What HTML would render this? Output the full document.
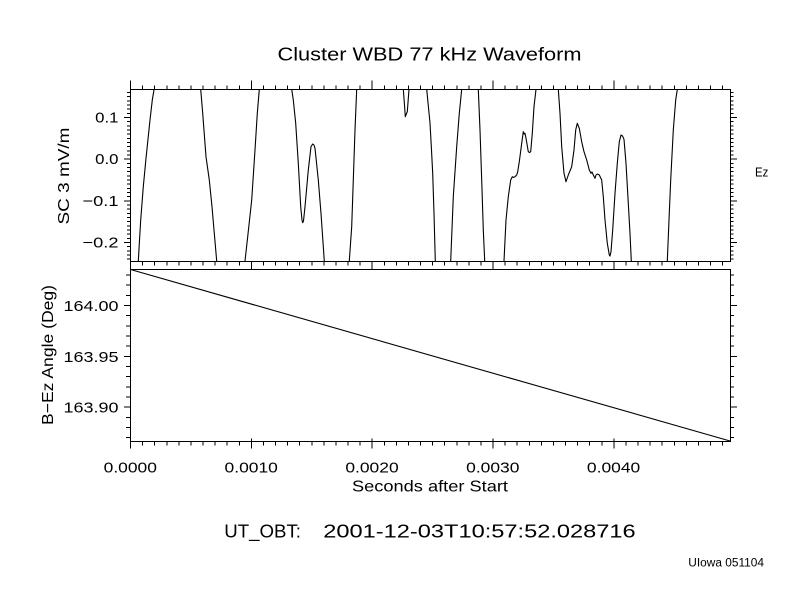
<!DOCTYPE html>
<html>
<head>
<meta charset="utf-8">
<style>
  html,body{margin:0;padding:0;background:#fff;}
  body{width:800px;height:600px;overflow:hidden;}
  svg{display:block;}
  text{font-family:"Liberation Sans", "DejaVu Sans", sans-serif; fill:#000;}
</style>
</head>
<body>
<svg width="800" height="600" viewBox="0 0 800 600" xmlns="http://www.w3.org/2000/svg">
  <rect x="0" y="0" width="800" height="600" fill="#fff"/>
  <defs>
    <clipPath id="c1"><rect x="130" y="89" width="601" height="173"/></clipPath>
  </defs>

  <!-- Title -->
  <text x="429.5" y="60.7" font-size="18.6" text-anchor="middle" textLength="304" lengthAdjust="spacingAndGlyphs">Cluster WBD 77 kHz Waveform</text>

  <!-- Frames -->
  <g fill="none" stroke="#000" stroke-width="1" shape-rendering="crispEdges">
    <rect x="130.5" y="89.5" width="600" height="172"/>
    <rect x="130.5" y="269.5" width="600" height="172"/>
  </g>

  <!-- X ticks -->
  <g stroke="#000" stroke-width="1" shape-rendering="crispEdges" fill="none">
    <!-- top panel, top edge (upward) -->
    <path d="M142.6 89.5v-4M154.7 89.5v-4M166.8 89.5v-4M178.8 89.5v-4M190.9 89.5v-4M203 89.5v-4M215.1 89.5v-4M227.2 89.5v-4M239.3 89.5v-4
             M263.4 89.5v-4M275.5 89.5v-4M287.6 89.5v-4M299.7 89.5v-4M311.8 89.5v-4M323.9 89.5v-4M335.9 89.5v-4M348 89.5v-4M360.1 89.5v-4
             M384.3 89.5v-4M396.4 89.5v-4M408.5 89.5v-4M420.5 89.5v-4M432.6 89.5v-4M444.7 89.5v-4M456.8 89.5v-4M468.9 89.5v-4M481 89.5v-4
             M505.1 89.5v-4M517.2 89.5v-4M529.3 89.5v-4M541.4 89.5v-4M553.5 89.5v-4M565.6 89.5v-4M577.6 89.5v-4M589.7 89.5v-4M601.8 89.5v-4
             M626 89.5v-4M638.1 89.5v-4M650.2 89.5v-4M662.2 89.5v-4M674.3 89.5v-4M686.4 89.5v-4M698.5 89.5v-4M710.6 89.5v-4M722.7 89.5v-4
             M130.5 89.5v-9M251.4 89.5v-9M372.2 89.5v-9M493.1 89.5v-9M613.9 89.5v-9"/>
    <!-- top panel, bottom edge (downward) -->
    <path d="M142.6 261.5v4M154.7 261.5v4M166.8 261.5v4M178.8 261.5v4M190.9 261.5v4M203 261.5v4M215.1 261.5v4M227.2 261.5v4M239.3 261.5v4
             M263.4 261.5v4M275.5 261.5v4M287.6 261.5v4M299.7 261.5v4M311.8 261.5v4M323.9 261.5v4M335.9 261.5v4M348 261.5v4M360.1 261.5v4
             M384.3 261.5v4M396.4 261.5v4M408.5 261.5v4M420.5 261.5v4M432.6 261.5v4M444.7 261.5v4M456.8 261.5v4M468.9 261.5v4M481 261.5v4
             M505.1 261.5v4M517.2 261.5v4M529.3 261.5v4M541.4 261.5v4M553.5 261.5v4M565.6 261.5v4M577.6 261.5v4M589.7 261.5v4M601.8 261.5v4
             M626 261.5v4M638.1 261.5v4M650.2 261.5v4M662.2 261.5v4M674.3 261.5v4M686.4 261.5v4M698.5 261.5v4M710.6 261.5v4M722.7 261.5v4
             M130.5 261.5v8M251.4 261.5v8M372.2 261.5v8M493.1 261.5v8M613.9 261.5v8"/>
    <!-- lower panel, bottom edge (downward) -->
    <path d="M142.6 441.5v4M154.7 441.5v4M166.8 441.5v4M178.8 441.5v4M190.9 441.5v4M203 441.5v4M215.1 441.5v4M227.2 441.5v4M239.3 441.5v4
             M263.4 441.5v4M275.5 441.5v4M287.6 441.5v4M299.7 441.5v4M311.8 441.5v4M323.9 441.5v4M335.9 441.5v4M348 441.5v4M360.1 441.5v4
             M384.3 441.5v4M396.4 441.5v4M408.5 441.5v4M420.5 441.5v4M432.6 441.5v4M444.7 441.5v4M456.8 441.5v4M468.9 441.5v4M481 441.5v4
             M505.1 441.5v4M517.2 441.5v4M529.3 441.5v4M541.4 441.5v4M553.5 441.5v4M565.6 441.5v4M577.6 441.5v4M589.7 441.5v4M601.8 441.5v4
             M626 441.5v4M638.1 441.5v4M650.2 441.5v4M662.2 441.5v4M674.3 441.5v4M686.4 441.5v4M698.5 441.5v4M710.6 441.5v4M722.7 441.5v4
             M130.5 438.5v10M251.4 438.5v10M372.2 438.5v10M493.1 438.5v10M613.9 438.5v10"/>
  </g>

  <!-- Y ticks top panel -->
  <g stroke="#000" stroke-width="1" shape-rendering="crispEdges" fill="none">
    <path d="M127 92.5h3M127 96.7h3M127 100.9h3M127 105h3M127 109.2h3M127 113.4h3
             M127 121.7h3M127 125.9h3M127 130h3M127 134.2h3M127 138.4h3M127 142.5h3M127 146.7h3M127 150.9h3M127 155h3
             M127 163.4h3M127 167.5h3M127 171.7h3M127 175.9h3M127 180h3M127 184.2h3M127 188.4h3M127 192.5h3M127 196.7h3
             M127 205h3M127 209.2h3M127 213.4h3M127 217.5h3M127 221.7h3M127 225.9h3M127 230h3M127 234.2h3M127 238.4h3
             M127 246.7h3M127 250.9h3M127 255h3M127 259.2h3
             M124 117.5h6M124 159.2h6M124 200.9h6M124 242.5h6"/>
    <path d="M730.5 92.5h3M730.5 96.7h3M730.5 100.9h3M730.5 105h3M730.5 109.2h3M730.5 113.4h3
             M730.5 121.7h3M730.5 125.9h3M730.5 130h3M730.5 134.2h3M730.5 138.4h3M730.5 142.5h3M730.5 146.7h3M730.5 150.9h3M730.5 155h3
             M730.5 163.4h3M730.5 167.5h3M730.5 171.7h3M730.5 175.9h3M730.5 180h3M730.5 184.2h3M730.5 188.4h3M730.5 192.5h3M730.5 196.7h3
             M730.5 205h3M730.5 209.2h3M730.5 213.4h3M730.5 217.5h3M730.5 221.7h3M730.5 225.9h3M730.5 230h3M730.5 234.2h3M730.5 238.4h3
             M730.5 246.7h3M730.5 250.9h3M730.5 255h3M730.5 259.2h3
             M730.5 117.5h6.5M730.5 159.2h6.5M730.5 200.9h6.5M730.5 242.5h6.5"/>
    <!-- lower panel -->
    <path d="M126 275h4M126 285.2h4M126 295.3h4M126 315.7h4M126 325.8h4M126 336h4M126 346.2h4
             M126 366.5h4M126 376.7h4M126 386.8h4M126 397h4M126 417.3h4M126 427.5h4M126 437.6h4
             M124 305.5h6M124 356.3h6M124 407.1h6"/>
    <path d="M730.5 275h3.5M730.5 285.2h3.5M730.5 295.3h3.5M730.5 315.7h3.5M730.5 325.8h3.5M730.5 336h3.5M730.5 346.2h3.5
             M730.5 366.5h3.5M730.5 376.7h3.5M730.5 386.8h3.5M730.5 397h3.5M730.5 417.3h3.5M730.5 427.5h3.5M730.5 437.6h3.5
             M730.5 305.5h6.5M730.5 356.3h6.5M730.5 407.1h6.5"/>
  </g>

  <!-- Waveform -->
  <g clip-path="url(#c1)" fill="none" stroke="#000" stroke-width="1.1" stroke-linejoin="round">
    <polyline points="137.8,265 138.3,261 140.7,220 143.3,186.7 146,158.3 150,120 152.3,100 154.6,86"/>
    <polyline points="199.9,86 200.7,89.3 202.7,113.3 206,156.7 209.3,180 212,206.7 214,230 216.7,261 217,265"/>
    <polyline points="244.7,265 245,261 247.7,236.7 251.7,200 255,150 257.3,113.3 259.3,89.3 259.6,86"/>
    <polyline points="291.5,86 291.7,89.3 293.3,100 295.7,123.3 298.3,163.3 300.7,206.7 302,220 302.7,222.7 303.5,221 305,206.7 308.3,170 311,146.7 312.7,144 314,145 315,148.3 318.3,180 321,213.3 324.3,261 324.6,265"/>
    <polyline points="349,265 349.3,261 351.7,226.7 353.3,180 355,130 356.7,89.3 357,86"/>
    <polyline points="403,86 403.3,89.3 404.5,105 405.3,116.7 406.3,114 407.3,111.7 409,89.3 409.3,86"/>
    <polyline points="426.5,86 426.7,89.3 430,123 431.5,150 432.7,173.3 434,213.3 435.3,261 435.5,265"/>
    <polyline points="450.5,265 450.7,261 453.3,196.7 456.7,146.7 459.3,113.3 461.7,89.3 462,86"/>
    <polyline points="478.2,86 478.3,89.3 480,130 481.7,180 483.3,230 484.7,261 484.9,265"/>
    <polyline points="503.8,265 504,261 506,220 508.3,196.7 510.7,180 512.3,176.7 513.5,177.5 515,176.7 516.7,175 517.7,171.7 519.3,161.7 521.7,143.3 523.3,131.7 524.2,134 525,133.3 526,138.3 528.3,151.7 529.5,152.5 530.7,151.7 532.3,133.3 534,106.7 536,89.3 536.4,86"/>
    <polyline points="558.2,86 558.3,89.3 560,113.3 561.7,146.7 564,173.3 566,181.7 568.3,175 571.7,166.7 574,150 575.7,130 577.3,123.3 579.3,128.3 581.7,141.7 584,151.7 586.7,160 589.3,170 591,173.3 592,172 593.3,175 595,178.3 596,175 597.3,174 599.3,175 601.7,180 603.3,196.7 605,220 607.3,243.3 609.3,255 610,256 611,251.7 612.7,230 615,193.3 617.3,163.3 619.3,141.7 621,135 622.5,136 624,139.3 626,163.3 628.3,203.3 630,233.3 631.3,261 631.5,265"/>
    <polyline points="667.1,265 667.3,261 669,220 670.7,180 673.3,130 675.7,100 677.3,89.3 677.6,86"/>
  </g>

  <!-- Lower panel line -->
  <line x1="130.5" y1="269.5" x2="730" y2="441" stroke="#000" stroke-width="1.1"/>

  <!-- Y tick labels top panel -->
  <g font-size="15" text-anchor="end">
    <text x="118.5" y="122.5" textLength="23.3" lengthAdjust="spacingAndGlyphs">0.1</text>
    <text x="118.5" y="164.2" textLength="23.3" lengthAdjust="spacingAndGlyphs">0.0</text>
    <text x="118.5" y="205.9" textLength="36" lengthAdjust="spacingAndGlyphs">−0.1</text>
    <text x="118.5" y="247.5" textLength="36" lengthAdjust="spacingAndGlyphs">−0.2</text>
  </g>
  <!-- Y tick labels lower panel -->
  <g font-size="15" text-anchor="end">
    <text x="118.5" y="311" textLength="55" lengthAdjust="spacingAndGlyphs">164.00</text>
    <text x="118.5" y="361.8" textLength="55" lengthAdjust="spacingAndGlyphs">163.95</text>
    <text x="118.5" y="412.6" textLength="55" lengthAdjust="spacingAndGlyphs">163.90</text>
  </g>

  <!-- X tick labels -->
  <g font-size="15" text-anchor="middle">
    <text x="130.3" y="472.3" textLength="53.3" lengthAdjust="spacingAndGlyphs">0.0000</text>
    <text x="251.2" y="472.3" textLength="53.3" lengthAdjust="spacingAndGlyphs">0.0010</text>
    <text x="372" y="472.3" textLength="53.3" lengthAdjust="spacingAndGlyphs">0.0020</text>
    <text x="492.8" y="472.3" textLength="53.3" lengthAdjust="spacingAndGlyphs">0.0030</text>
    <text x="613.6" y="472.3" textLength="53.3" lengthAdjust="spacingAndGlyphs">0.0040</text>
  </g>

  <!-- Axis titles -->
  <text x="430" y="491.7" font-size="16" text-anchor="middle" textLength="156" lengthAdjust="spacingAndGlyphs">Seconds after Start</text>
  <text x="69" y="176" font-size="16" text-anchor="middle" transform="rotate(-90 69 176)" textLength="97" lengthAdjust="spacingAndGlyphs">SC 3 mV/m</text>
  <text x="53" y="355" font-size="16" text-anchor="middle" transform="rotate(-90 53 355)" textLength="140" lengthAdjust="spacingAndGlyphs">B−Ez Angle (Deg)</text>

  <!-- Right label -->
  <text x="755" y="176.7" font-size="13" textLength="13.3" lengthAdjust="spacingAndGlyphs">Ez</text>

  <!-- UT line -->
  <text x="224.3" y="537.3" font-size="18.6" textLength="76.7" lengthAdjust="spacingAndGlyphs">UT_OBT:</text>
  <text x="323.3" y="537.3" font-size="18.6" textLength="312.4" lengthAdjust="spacingAndGlyphs">2001-12-03T10:57:52.028716</text>

  <!-- Footer -->
  <text x="688.3" y="566.7" font-size="11.5" textLength="75.7" lengthAdjust="spacingAndGlyphs">UIowa 051104</text>
</svg>
</body>
</html>
